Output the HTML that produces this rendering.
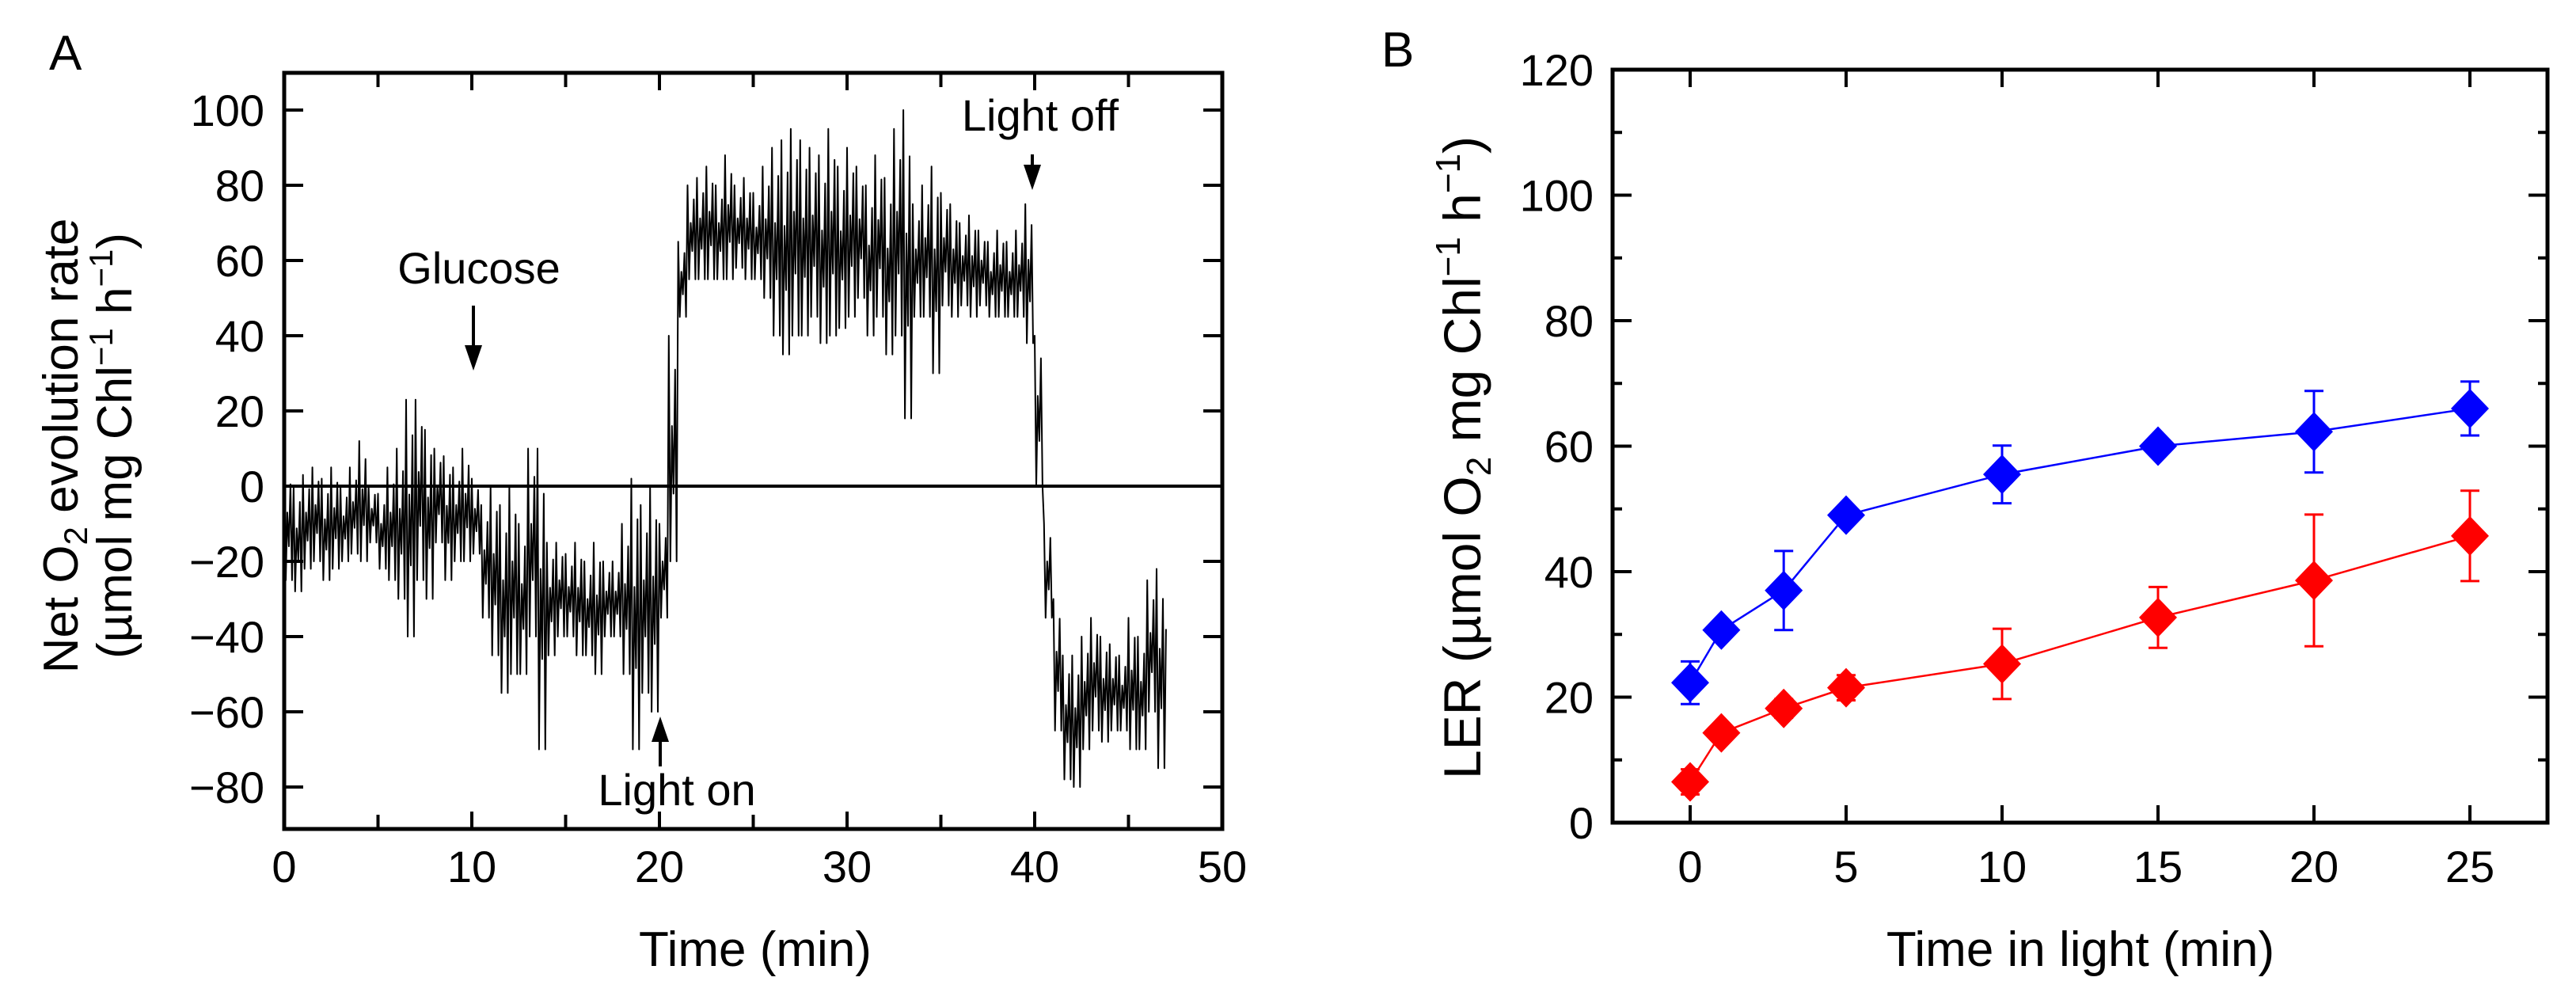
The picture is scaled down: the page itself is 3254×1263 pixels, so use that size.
<!DOCTYPE html>
<html><head><meta charset="utf-8"><style>
html,body{margin:0;padding:0;background:#fff;}
svg{display:block;font-family:"Liberation Sans",sans-serif;}
</style></head><body>
<svg id="fig" width="3254" height="1263" viewBox="0 0 3254 1263" xmlns="http://www.w3.org/2000/svg">
<g id="panelA"></g>
<g id="panelB"></g>
</svg>
<script>
// ---- Panel A data (time bins every 0.5 min, envelope hi/lo)
const aStart = 0, aStep = 0.5;
const aHi = [5,0,3,5,2,5,0,5,12,0,-2,5,10,23,23,15,10,8,5,10,2,-5,0,-5,0,-10,10,10,-15,-15,-18,-15,-20,-15,-20,-20,-10,2,-5,0,-10,40,65,80,82,85,80,88,80,82,78,85,90,92,95,92,90,88,95,85,90,85,80,88,82,95,100,75,80,85,78,75,70,72,68,65,68,65,68,75,40,-10,-30,-45,-45,-40,-35,-40,-42,-45,-35,-40,-25,-22,-38];
const aLo = [-25,-28,-22,-20,-25,-22,-20,-18,-20,-15,-22,-25,-30,-40,-25,-30,-15,-25,-20,-20,-18,-35,-45,-55,-50,-50,-40,-70,-45,-40,-40,-45,-45,-50,-40,-40,-50,-70,-55,-60,-35,-20,45,55,55,55,55,55,58,55,55,50,40,35,40,40,45,38,40,42,45,50,40,45,35,40,18,45,45,30,48,45,48,45,48,45,45,45,45,38,0,-35,-65,-78,-80,-70,-65,-68,-65,-65,-70,-70,-60,-75,-62];
const aXTicks = [0,10,20,30,40,50];
const aYTicks = [-80,-60,-40,-20,0,20,40,60,80,100];
const aYLabels = ["\u221280","\u221260","\u221240","\u221220","0","20","40","60","80","100"];
// ---- Panel B data
const bTimes = [0,1,3,5,10,15,20,25];
const bBlue = [22.3,30.7,37,49,55.5,60,62.3,66];
const bBlueErr = [3.4,1,6.3,1,4.6,1,6.5,4.3];
const bRed = [6.5,14.3,18.2,21.5,25.3,32.7,38.6,45.7];
const bRedErr = [2,1,1.5,2,5.6,4.85,10.5,7.2];
const bXTicks = [0,5,10,15,20,25];
const bYTicks = [0,20,40,60,80,100,120];

const NS="http://www.w3.org/2000/svg";
function mk(parent,tag,attrs,text){const e=document.createElementNS(NS,tag);for(const k in attrs)e.setAttribute(k,attrs[k]);if(text!==undefined)e.textContent=text;parent.appendChild(e);return e;}

// ================= Panel A =================
const A=document.getElementById('panelA');
const aL=359,aR=1544,aT=92,aB=1047;
const ax=v=>aL+(v-0)/(50-0)*(aR-aL);
const ay=v=>139+(100-v)*4.75;
let el;
el=mk(A,'text',{x:62,y:88,'font-size':62});el.textContent='A';


el=mk(A,'line',{x1:aL,x2:aR,y1:ay(0),y2:ay(0),stroke:'#000','stroke-width':4});


let pts=[];
for(let i=0;i<aHi.length;i++){
  const t=aStart+i*aStep;
  const sub=[aHi[i],aLo[i],(aHi[i]*0.6+aLo[i]*0.4),aLo[i]*0.7+aHi[i]*0.3,aHi[i]*0.85+aLo[i]*0.15,aLo[i]];
  for(let k=0;k<sub.length;k++){
    const tt=t+k*aStep/sub.length;
    if(tt>47)break;
    pts.push(ax(tt).toFixed(1)+','+ay(sub[k]).toFixed(1));
  }
}
el=mk(A,'polyline',{points:pts.join(' '),fill:'none',stroke:'#000','stroke-width':2,'stroke-linejoin':'round'});


el=mk(A,'rect',{x:aL,y:aT,width:aR-aL,height:aB-aT,fill:'none',stroke:'#000','stroke-width':5});


for(let v=0;v<=50;v+=5){
  const len=(v%10===0)?22:18;
  mk(A,'line',{x1:ax(v),x2:ax(v),y1:aB,y2:aB-len,stroke:'#000','stroke-width':4});
  mk(A,'line',{x1:ax(v),x2:ax(v),y1:aT,y2:aT+len,stroke:'#000','stroke-width':4});
}
aXTicks.forEach(v=>{
  const t=mk(A,'text',{x:ax(v),y:1114,'font-size':56,'text-anchor':'middle'},String(v));
  
  
});
aYTicks.forEach((v,i)=>{
  mk(A,'line',{x1:aL,x2:aL+24,y1:ay(v),y2:ay(v),stroke:'#000','stroke-width':4});
  mk(A,'line',{x1:aR,x2:aR-24,y1:ay(v),y2:ay(v),stroke:'#000','stroke-width':4});
  const t=mk(A,'text',{x:334,y:ay(v)+20,'font-size':56,'text-anchor':'end'},aYLabels[i]);
  
  
});
el=mk(A,'text',{x:954,y:1220,'font-size':62,'text-anchor':'middle'},'Time (min)');


el=mk(A,'text',{transform:'translate(98,563) rotate(-90)','font-size':62,'text-anchor':'middle'});
el.innerHTML='Net O<tspan font-size="42" dy="12">2</tspan><tspan dy="-12"> evolution rate</tspan>';


el=mk(A,'text',{transform:'translate(166,563) rotate(-90)','font-size':62,'text-anchor':'middle'});
el.innerHTML='(µmol mg Chl<tspan font-size="42" dy="-24">−1</tspan><tspan dy="24"> h</tspan><tspan font-size="42" dy="-24">−1</tspan><tspan dy="24">)</tspan>';


function arrow(x,y1,y2,name){
  const g=mk(A,'g',{});
  
  
  const dir=y2>y1?1:-1;
  mk(g,'line',{x1:x,x2:x,y1:y1,y2:y2-dir*24,stroke:'#000','stroke-width':4});
  mk(g,'polygon',{points:`${x-11},${y2-dir*32} ${x+11},${y2-dir*32} ${x},${y2}`,fill:'#000'});
}
el=mk(A,'text',{x:605,y:358,'font-size':56,'text-anchor':'middle'},'Glucose');


arrow(598,386,468,'glucose-arrow');
el=mk(A,'text',{x:855,y:1017,'font-size':56,'text-anchor':'middle'},'Light on');


arrow(834,968,905,'light-on-arrow');
el=mk(A,'text',{x:1314,y:165,'font-size':56,'text-anchor':'middle'},'Light off');


arrow(1304,195,240,'light-off-arrow');

// ================= Panel B =================
const B=document.getElementById('panelB');
const bL=2037,bR=3218,bT=88,bB=1039;
const bx=v=>2135+v*(3120-2135)/25;
const by=v=>bB-v*(bB-bT)/120;
el=mk(B,'text',{x:1745,y:84,'font-size':62},'B');


el=mk(B,'rect',{x:bL,y:bT,width:bR-bL,height:bB-bT,fill:'none',stroke:'#000','stroke-width':5});


bXTicks.forEach(v=>{
  mk(B,'line',{x1:bx(v),x2:bx(v),y1:bB,y2:bB-22,stroke:'#000','stroke-width':4});
  mk(B,'line',{x1:bx(v),x2:bx(v),y1:bT,y2:bT+22,stroke:'#000','stroke-width':4});
  const t=mk(B,'text',{x:bx(v),y:1114,'font-size':56,'text-anchor':'middle'},String(v));
  
  
});
for(let v=0;v<=120;v+=10){
  const len=(v%20===0)?24:12;
  mk(B,'line',{x1:bL,x2:bL+len,y1:by(v),y2:by(v),stroke:'#000','stroke-width':4});
  mk(B,'line',{x1:bR,x2:bR-len,y1:by(v),y2:by(v),stroke:'#000','stroke-width':4});
}
bYTicks.forEach(v=>{
  const t=mk(B,'text',{x:2013,y:by(v)+20,'font-size':56,'text-anchor':'end'},String(v));
  
  
});
el=mk(B,'text',{x:2628,y:1220,'font-size':62,'text-anchor':'middle'},'Time in light (min)');


el=mk(B,'text',{transform:'translate(1870,578) rotate(-90)','font-size':66,'text-anchor':'middle'});
el.innerHTML='LER (µmol O<tspan font-size="44" dy="13">2</tspan><tspan dy="-13"> mg Chl</tspan><tspan font-size="44" dy="-26">−1</tspan><tspan dy="26"> h</tspan><tspan font-size="44" dy="-26">−1</tspan><tspan dy="26">)</tspan>';


function series(vals,errs,color,name){
  const g=mk(B,'g',{});
  
  
  const p=bTimes.map((t,i)=>bx(t)+','+by(vals[i])).join(' ');
  mk(g,'polyline',{points:p,fill:'none',stroke:color,'stroke-width':2.5});
  bTimes.forEach((t,i)=>{
    const x=bx(t),yt=by(vals[i]+errs[i]),yb=by(vals[i]-errs[i]);
    const e=mk(g,'path',{d:`M${x},${yt}V${yb}M${x-12},${yt}H${x+12}M${x-12},${yb}H${x+12}`,stroke:color,'stroke-width':3,fill:'none'});
    
    
  });
  bTimes.forEach((t,i)=>{
    const x=bx(t),y=by(vals[i]);
    const d=mk(g,'polygon',{points:`${x},${y-25} ${x+24},${y} ${x},${y+25} ${x-24},${y}`,fill:color});
    
    
  });
}
series(bBlue,bBlueErr,'#0000ff','blue-series');
series(bRed,bRedErr,'#ff0000','red-series');
</script>
</body></html>
